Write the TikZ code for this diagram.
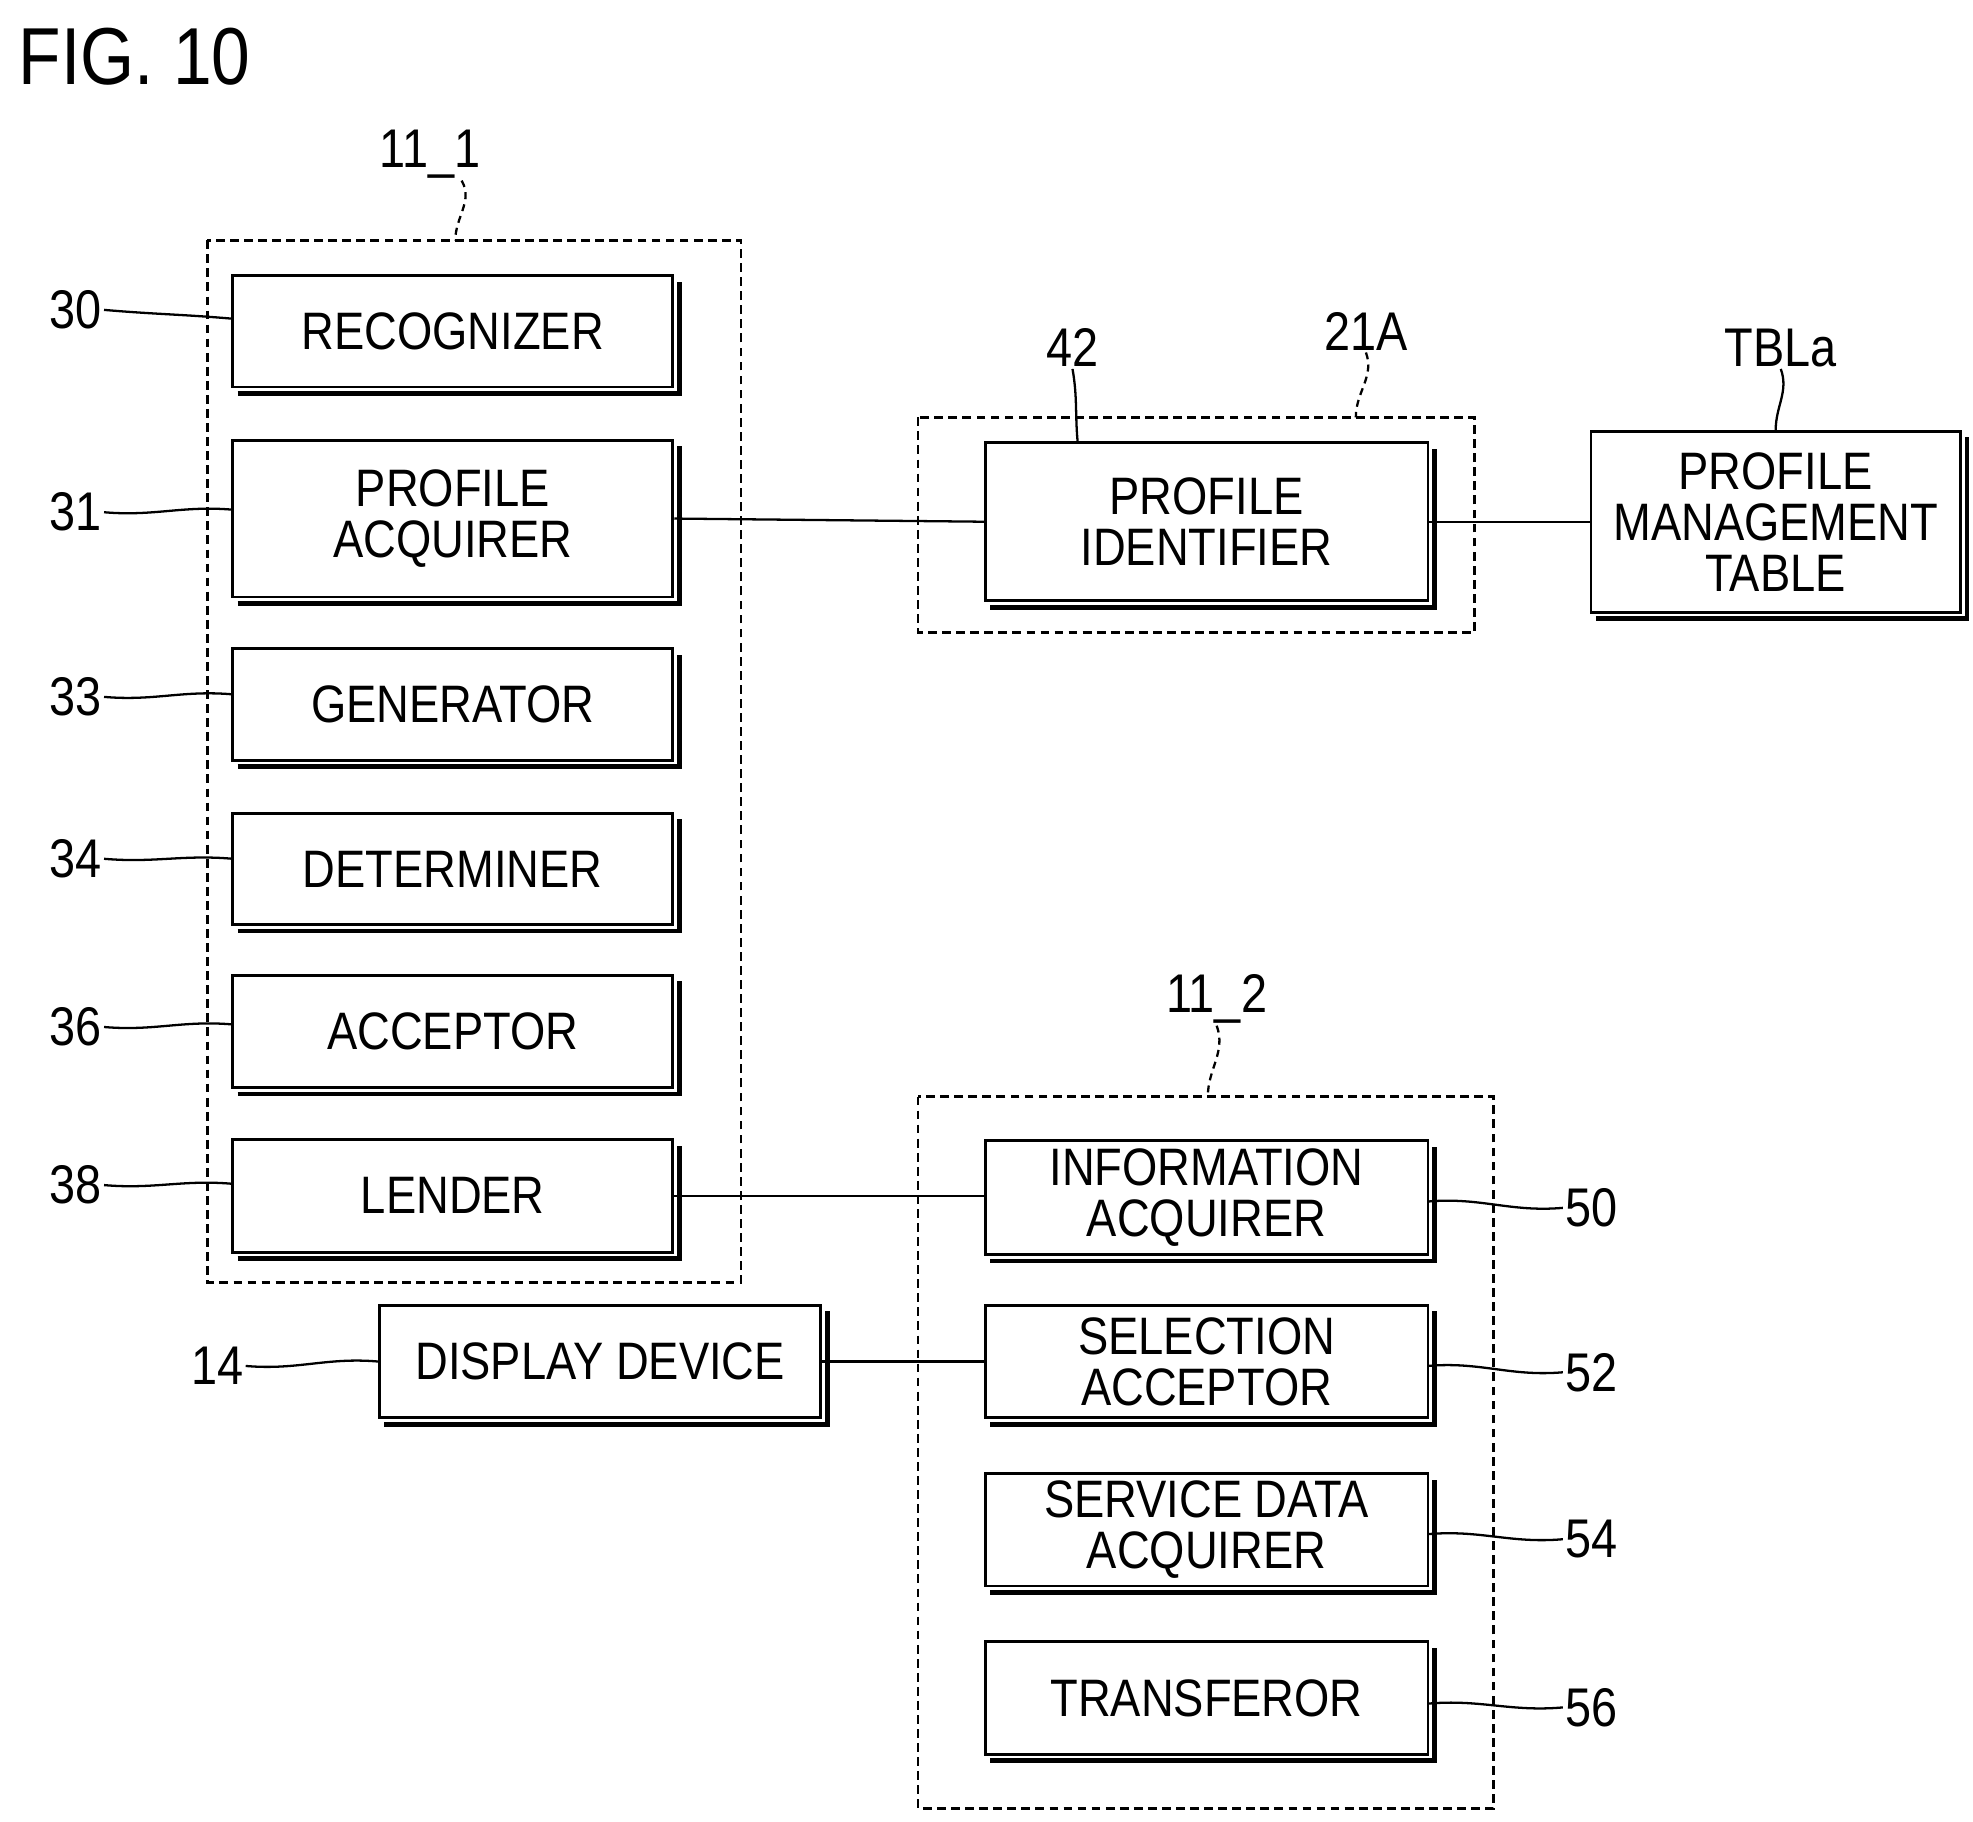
\documentclass[tikz,border=0pt]{standalone}
\usepackage{fontspec}
\setmainfont{Liberation Sans}[FakeStretch=0.86]
\usetikzlibrary{calc}
\tikzset{
 box/.style={draw,line width=1.6pt,inner sep=0pt,align=center,font=\fontsize{30}{29}\selectfont},
 dbox/.style={draw,dash pattern=on 5pt off 3pt,line width=1.4pt},
 lbl/.style={inner sep=1pt,font=\fontsize{31}{31}\selectfont},
 lead/.style={line width=1.3pt},
 dlead/.style={line width=1.3pt,dash pattern=on 4pt off 3pt},
 sh/.style={line width=2.6pt}
}
\newcommand\bx[6]{%
 \node[box,minimum width={(#4-#2)*0.0253cm},minimum height={(#5-#3)*0.0253cm}] (#1) at ({(#2+#4)/2},{(#3+#5)/2}) {#6};
 \draw[sh] ($(#1.south west)+(5,4)$) -- ($(#1.south east)+(4,4)$) -- ($(#1.north east)+(4,6)$);}
\begin{document}
\begin{tikzpicture}[x=0.0253cm,y=-0.0253cm]
\useasboundingbox (0,0) rectangle (1560,1440);
\node[anchor=west,font=\fontsize{46}{46}\selectfont] (fig) at (10,45) {FIG. 10};
% group 11_1
\draw[dbox] (164,190) rectangle (586,1014);
\node[lbl] (g1) at (340,122) {11\_1};
\coordinate (g1b) at (360,190);
\draw[dlead] (g1.south) ++(25,0) coordinate (g1a) to[out=-60,in=90] (g1b);
\bx{rec}{184}{218}{532}{306}{RECOGNIZER}
\bx{pa}{184}{348}{532}{472}{PROFILE\\ACQUIRER}
\bx{gen}{184}{513}{532}{601}{GENERATOR}
\bx{det}{184}{643}{532}{731}{DETERMINER}
\bx{acc}{184}{771}{532}{860}{ACCEPTOR}
\bx{len}{184}{901}{532}{990}{LENDER}
\foreach \n/\t/\y/\e in {l30/30/245/252,l31/31/405/403,l33/33/551/549,l34/34/679/679,l36/36/812/810,l38/38/937/936}{
 \node[lbl] (\n) at (60,\y) {\t};
 \coordinate (\n e) at (184,\e);
 \draw[lead] (\n.east) to[out=-5,in=175] (\n e);
}
% 21A
\draw[dbox] (726,330) rectangle (1166,500);
\bx{pid}{779}{350}{1129}{475}{PROFILE\\IDENTIFIER}
\node[lbl] (l42) at (848,275) {42};
\draw[lead] (l42.south) to[out=-80,in=95] (pid.north -| 852,0);
\node[lbl] (l21) at (1080,262) {21A};
\coordinate (d21) at (1072,330);
\draw[dlead] (l21.south) to[out=-70,in=90] (d21);
\bx{tbl}{1258}{341}{1550}{484}{PROFILE\\MANAGEMENT\\TABLE}
\node[lbl] (ltb) at (1408,275) {TBLa};
\draw[lead] (ltb.south) to[out=-70,in=90] (tbl.north -| 1404,0);
% 11_2
\draw[dbox] (726,867) rectangle (1181,1430);
\node[lbl] (g2) at (962,790) {11\_2};
\coordinate (g2b) at (955,867);
\draw[dlead] (g2.south) to[out=-70,in=90] (g2b);
\bx{ia}{779}{902}{1129}{992}{INFORMATION\\ACQUIRER}
\bx{sa}{779}{1032}{1129}{1121}{SELECTION\\ACCEPTOR}
\bx{sd}{779}{1165}{1129}{1254}{SERVICE DATA\\ACQUIRER}
\bx{tr}{779}{1298}{1129}{1387}{TRANSFEROR}
\foreach \n/\t/\y/\s in {l50/50/955/950,l52/52/1085/1080,l54/54/1217/1213,l56/56/1350/1347}{
 \node[lbl] (\n) at (1258,\y) {\t};
 \coordinate (\n s) at (1129,\s);
 \draw[lead] (\n s) to[out=5,in=185] (\n.west);
}
\bx{disp}{300}{1032}{649}{1121}{DISPLAY DEVICE}
\node[lbl] (l14) at (172,1080) {14};
\draw[lead] (l14.east) to[out=-5,in=175] (disp.west);
% connectors
\draw[lead] (pa.east) -- (pid.west);
\draw[lead] (pid.east) -- (tbl.west);
\draw[lead] (len.east) -- (len.east -| ia.west);
\draw[lead] (disp.east) -- (disp.east -| sa.west);
\end{tikzpicture}
\end{document}
